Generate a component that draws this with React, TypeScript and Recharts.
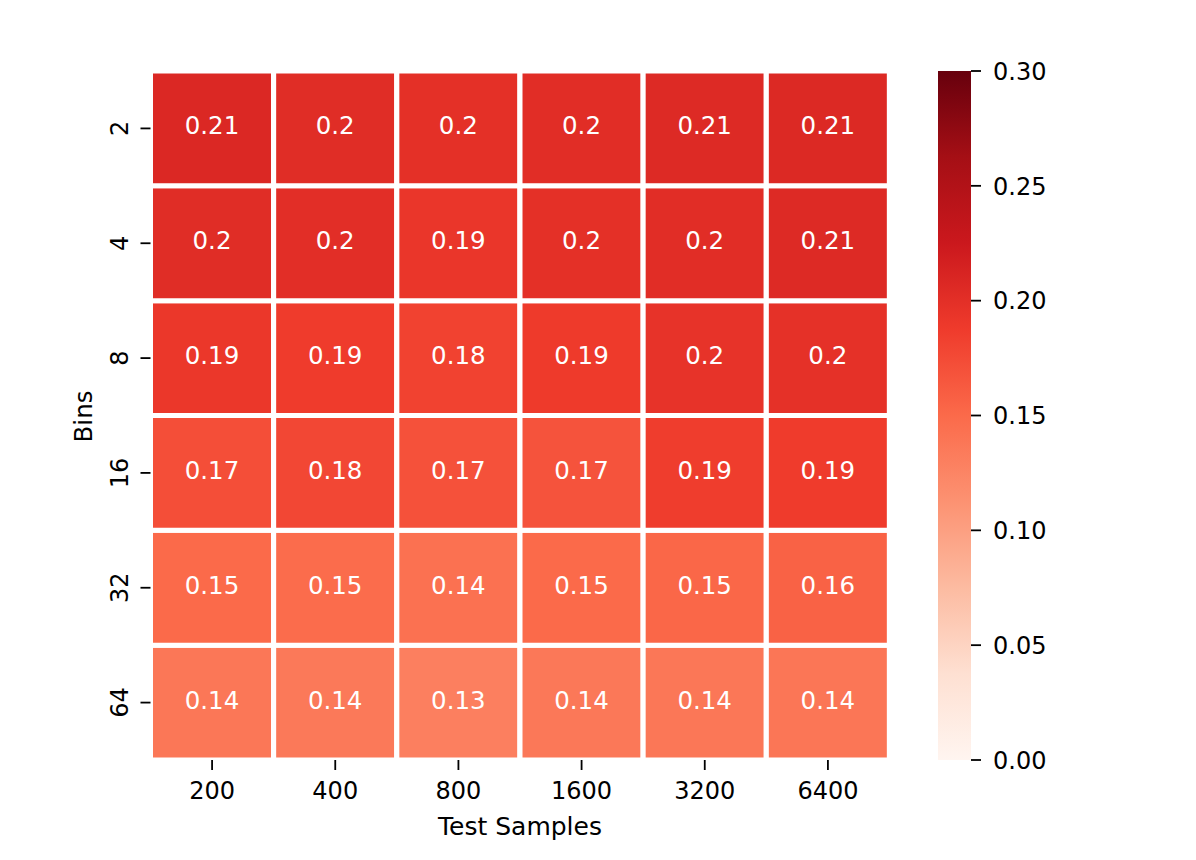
import React from 'react';
import { BarChart, Bar, XAxis, YAxis, Cell, LabelList, Label } from 'recharts';

const samples = ['200', '400', '800', '1600', '3200', '6400'];
const bins = ['2', '4', '8', '16', '32', '64'];

const bins2 = [0.208, 0.203, 0.199, 0.202, 0.206, 0.207];
const bins4 = [0.203, 0.201, 0.193, 0.199, 0.202, 0.206];
const bins8 = [0.192, 0.188, 0.182, 0.189, 0.196, 0.198];
const bins16 = [0.172, 0.178, 0.170, 0.168, 0.186, 0.188];
const bins32 = [0.150, 0.148, 0.143, 0.150, 0.152, 0.156];
const bins64 = [0.138, 0.136, 0.130, 0.137, 0.138, 0.139];

const colorTicks = [0, 0.05, 0.1, 0.15, 0.2, 0.25, 0.3];
const vmin = 0;
const vmax = 0.3;

const matrix = [bins2, bins4, bins8, bins16, bins32, bins64];

const REDS = ['#fff5f0', '#fee0d2', '#fcbba1', '#fc9272', '#fb6a4a', '#ef3b2c', '#cb181d', '#a50f15', '#67000d'];

function hexToRgb(h: string) {
  return [parseInt(h.slice(1, 3), 16), parseInt(h.slice(3, 5), 16), parseInt(h.slice(5, 7), 16)];
}

function reds(v: number) {
  let t = (v - vmin) / (vmax - vmin);
  t = Math.max(0, Math.min(1, t));
  const pos = t * (REDS.length - 1);
  const i = Math.min(REDS.length - 2, Math.floor(pos));
  const f = pos - i;
  const a = hexToRgb(REDS[i]);
  const b = hexToRgb(REDS[i + 1]);
  const c = a.map((x, k) => Math.round(x + (b[k] - x) * f));
  return `rgb(${c[0]},${c[1]},${c[2]})`;
}

function fmt2g(v: number) {
  return String(Number(v.toPrecision(2)));
}

const N = bins.length;
const data = samples.map((s, j) => {
  const row: any = { name: s };
  for (let k = 0; k < N; k++) {
    const rowIdx = N - 1 - k;
    row[`r${k}`] = 1;
    row[`v${k}`] = matrix[rowIdx][j];
  }
  return row;
});

const yTicks = bins.map((_, i) => i + 0.5);

const FONT = 'DejaVu Sans';

const XTick = (props: any) => {
  const { x, y, payload } = props;
  return (
    <text x={x} y={y + 27} textAnchor="middle" fontFamily={FONT} fontSize={24} fill="#000">
      {payload.value}
    </text>
  );
};

const YTick = (props: any) => {
  const { x, y, payload } = props;
  const label = bins[N - 1 - Math.floor(payload.value)];
  const bx = x - 10.5;
  return (
    <text x={bx} y={y} transform={`rotate(-90, ${bx}, ${y})`} textAnchor="middle" fontFamily={FONT} fontSize={24} fill="#000">
      {label}
    </text>
  );
};

const CTick = (props: any) => {
  const { x, y, payload } = props;
  return (
    <text x={x + 10} y={y + 8.7} textAnchor="start" fontFamily={FONT} fontSize={24} fill="#000">
      {Number(payload.value).toFixed(2)}
    </text>
  );
};

const CellLabel = (props: any) => {
  const { x, y, width, height, value } = props;
  return (
    <text x={x + width / 2} y={y + height / 2 + 6} textAnchor="middle" fontFamily={FONT} fontSize={24.5} fill="#ffffff">
      {fmt2g(Number(value))}
    </text>
  );
};

const XLabel = (props: any) => {
  const { viewBox } = props;
  return (
    <text x={viewBox.x + viewBox.width / 2} y={viewBox.y + 75} textAnchor="middle" fontFamily={FONT} fontSize={25} fill="#000">
      Test Samples
    </text>
  );
};

const YLabel = (props: any) => {
  const { viewBox } = props;
  const bx = viewBox.x + 1.5;
  const cy = viewBox.y + viewBox.height / 2 + 1;
  return (
    <text x={bx} y={cy} transform={`rotate(-90, ${bx}, ${cy})`} textAnchor="middle" fontFamily={FONT} fontSize={24.5} fill="#000">
      Bins
    </text>
  );
};

const colorbarData = [{ name: 'cb', v: vmax }];

export default function App() {
  const tickLine = { stroke: '#000', strokeWidth: 1.8 };
  return (
    <div style={{ position: 'absolute', left: 0, top: 0, width: 1196, height: 860, background: '#fff' }}>
      <svg width={0} height={0} style={{ position: 'absolute' }}>
        <defs>
          <linearGradient id="redsGrad" x1="0" y1="1" x2="0" y2="0">
            {REDS.map((c, i) => (
              <stop key={i} offset={`${(i / (REDS.length - 1)) * 100}%`} stopColor={c} />
            ))}
          </linearGradient>
        </defs>
      </svg>
      <div style={{ position: 'absolute', left: 0, top: 0 }}>
        <BarChart
          width={900}
          height={860}
          data={data}
          margin={{ top: 71, left: 90.5, right: 10.5, bottom: 70 }}
          barCategoryGap={0}
          barGap={0}
        >
          <XAxis
            dataKey="name"
            height={30}
            axisLine={false}
            tickSize={10}
            tickLine={tickLine}
            tick={<XTick />}
            interval={0}
          >
            <Label content={<XLabel />} />
          </XAxis>
          <YAxis
            type="number"
            domain={[0, N]}
            ticks={yTicks}
            width={60}
            axisLine={false}
            tickSize={10}
            tickLine={tickLine}
            tick={<YTick />}
            allowDataOverflow
          >
            <Label content={<YLabel />} />
          </YAxis>
          {bins.map((_, k) => (
            <Bar key={k} dataKey={`r${k}`} stackId="a" stroke="#ffffff" strokeWidth={5} isAnimationActive={false}>
              {data.map((d, j) => (
                <Cell key={j} fill={reds(d[`v${k}`])} />
              ))}
              <LabelList dataKey={`v${k}`} content={<CellLabel />} />
            </Bar>
          ))}
        </BarChart>
      </div>
      <div style={{ position: 'absolute', left: 938, top: 0 }}>
        <BarChart
          width={258}
          height={860}
          data={colorbarData}
          margin={{ top: 71, left: 0, right: 165, bottom: 100 }}
          barCategoryGap={0}
        >
          <XAxis dataKey="name" hide height={0} />
          <YAxis
            type="number"
            orientation="right"
            domain={[vmin, vmax]}
            ticks={colorTicks}
            width={60}
            axisLine={false}
            tickSize={10}
            tickLine={tickLine}
            tick={<CTick />}
            allowDataOverflow
          />
          <Bar dataKey="v" fill="url(#redsGrad)" isAnimationActive={false} />
        </BarChart>
      </div>
    </div>
  );
}
